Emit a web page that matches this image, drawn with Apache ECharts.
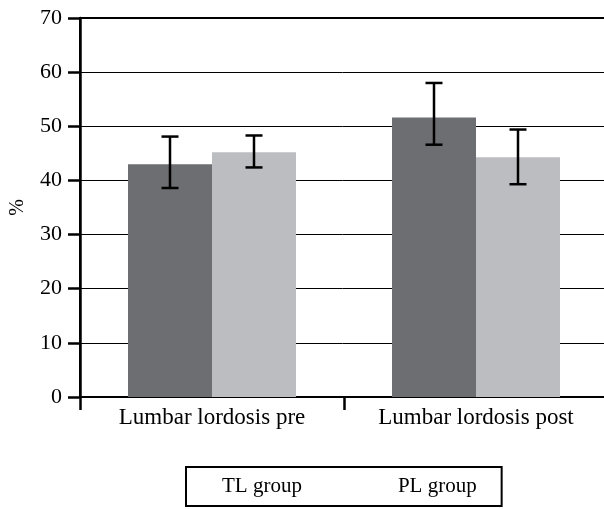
<!DOCTYPE html>
<html>
<head>
<meta charset="utf-8">
<script src="https://cdn.jsdelivr.net/npm/echarts@6/dist/echarts.min.js"></script>
<style>
  html, body { margin: 0; padding: 0; background: #fff; }
  #chart { width: 604px; height: 509px; }
</style>
</head>
<body>
<div id="chart"></div>
<script>
// data
const categories = ['Lumbar lordosis pre', 'Lumbar lordosis post'];
const seriesNames = ['TL group', 'PL group'];
const tlMean = [43.0, 51.6];
const tlLow = [38.6, 46.6];
const tlHigh = [48.1, 58.0];
const plMean = [45.2, 44.3];
const plLow = [42.4, 39.3];
const plHigh = [48.3, 49.4];
const yTicks = [0, 10, 20, 30, 40, 50, 60, 70];

const FONT = "'Liberation Serif', 'Times New Roman', serif";
const BAR_W = 84;

// error bar drawer, offset = shift from category centre in px
function errorSeries (name, low, high, offset) {
    return {
        name: name,
        type: 'custom',
        z: 10,
        data: low.map((v, i) => [i, v, high[i]]),
        renderItem: function (params, api) {
            const lo = api.coord([api.value(0), api.value(1)]);
            const hi = api.coord([api.value(0), api.value(2)]);
            const x = lo[0] + offset;
            const cap = 8.5;
            const style = { stroke: '#000', lineWidth: 2.5 };
            return {
                type: 'group',
                children: [
                    { type: 'line', shape: { x1: x, y1: hi[1], x2: x, y2: lo[1] }, style: style },
                    { type: 'line', shape: { x1: x - cap, y1: hi[1], x2: x + cap, y2: hi[1] }, style: style },
                    { type: 'line', shape: { x1: x - cap, y1: lo[1], x2: x + cap, y2: lo[1] }, style: style }
                ]
            };
        }
    };
}

const chart = echarts.init(document.getElementById('chart'));
const option = {
    animation: false,
    textStyle: { fontFamily: FONT, color: '#000' },
    grid: {
        left: 80,
        right: -4,
        top: 18,
        bottom: 112,
        outerBoundsMode: 'none',
        containLabel: false,
        show: true,
        borderColor: '#000',
        borderWidth: 2,
        backgroundColor: 'transparent'
    },
    legend: {
        data: [
            { name: seriesNames[0], itemStyle: { color: 'rgba(0,0,0,0)', borderWidth: 0 } },
            { name: seriesNames[1], itemStyle: { color: 'rgba(0,0,0,0)', borderWidth: 0 } }
        ],
        left: 186,
        top: 467,
        icon: 'rect',
        itemWidth: 25,
        itemHeight: 14,
        itemGap: 66,
        padding: [9, 25, 9, 6],
        borderColor: '#000',
        borderWidth: 2,
        selectedMode: false,
        textStyle: { fontFamily: FONT, fontSize: 21, color: '#000' }
    },
    xAxis: {
        type: 'category',
        data: categories,
        axisLine: { lineStyle: { color: '#000', width: 2 } },
        axisTick: { show: true, length: 13, lineStyle: { color: '#000', width: 2.5 } },
        axisLabel: { fontFamily: FONT, fontSize: 23, color: '#000', margin: 9 }
    },
    yAxis: {
        type: 'value',
        min: yTicks[0],
        max: yTicks[yTicks.length - 1],
        interval: 10,
        name: '%',
        nameLocation: 'middle',
        nameRotate: 90,
        nameGap: 52,
        nameTextStyle: { fontFamily: FONT, fontSize: 20, color: '#000' },
        axisLine: { show: true, lineStyle: { color: '#000', width: 2.5 } },
        axisTick: { show: true, length: 12, lineStyle: { color: '#000', width: 2.5 } },
        axisLabel: { fontFamily: FONT, fontSize: 22, color: '#000', margin: 18 },
        splitLine: { show: true, lineStyle: { color: '#000', width: 1 } }
    },
    series: [
        {
            name: seriesNames[0],
            type: 'bar',
            data: tlMean,
            barWidth: BAR_W,
            barGap: '0%',
            itemStyle: { color: '#6d6e71' }
        },
        {
            name: seriesNames[1],
            type: 'bar',
            data: plMean,
            barWidth: BAR_W,
            barGap: '0%',
            itemStyle: { color: '#bcbdc0' }
        },
        errorSeries('TL err', tlLow, tlHigh, -BAR_W / 2),
        errorSeries('PL err', plLow, plHigh, BAR_W / 2)
    ]
};
chart.setOption(option);
</script>
</body>
</html>
